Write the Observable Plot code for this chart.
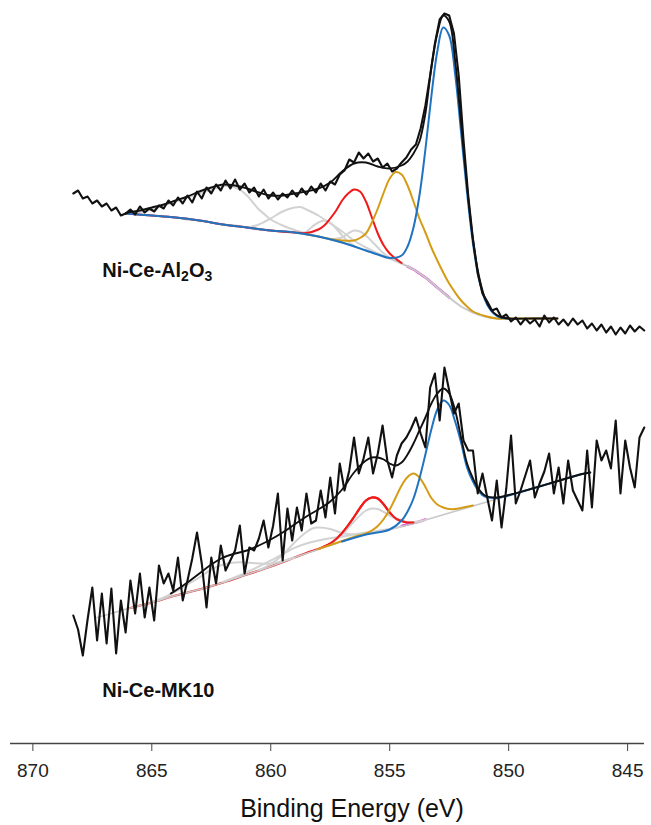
<!DOCTYPE html>
<html>
<head>
<meta charset="utf-8">
<script src="https://cdn.jsdelivr.net/npm/d3@7"></script>
<script src="https://cdn.jsdelivr.net/npm/@observablehq/plot@0.6"></script>
<style>
  body { margin: 0; background: #ffffff; }
  svg { display: block; }
</style>
</head>
<body>
<div id="chart"></div>
<script>
// ---------- axis / labels ----------
const xTicks = [870, 865, 860, 855, 850, 845];
const xDomain = [870.94, 844.29];
const yDomain = [0, 74.3];
const axisTitle = "Binding Energy (eV)";
const sampleNames = ["Ni-Ce-Al2O3", "Ni-Ce-MK10"];

// ---------- raw spectra (binding energy grid 868.3 -> 844.3 eV, step 0.2 eV) ----------
const rawStart = 868.3;
const rawStep = 0.2;
const rawTop = [
  55.0, 55.3,
  54.5, 54.7, 54.0, 54.3, 53.7,
  54.0, 53.3, 53.6, 52.8, 53.0,
  53.4, 52.9, 53.7, 53.1, 53.5,
  53.2, 53.8, 53.5, 54.3, 53.8,
  54.6, 54.0, 54.8, 54.1, 55.2,
  54.5, 55.6, 55.0, 55.9, 55.3,
  56.3, 55.5, 56.4, 55.4, 56.0,
  55.1, 55.6, 54.7, 55.4, 54.5,
  55.1, 54.4, 55.0, 54.6, 55.3,
  54.7, 55.5, 54.9, 55.7, 55.1,
  56.0, 55.3, 56.2, 55.9, 56.9,
  57.3, 58.4, 58.1, 59.1, 58.5,
  59.0, 58.2, 58.5, 57.6, 58.0,
  57.2, 57.5, 58.1, 58.6, 59.4,
  59.9, 61.5, 63.8, 66.8, 70.0,
  72.4, 73.0, 72.8, 71.0, 66.8,
  60.4, 54.8, 50.4, 47.0, 45.0,
  44.2, 43.3, 43.5, 42.6, 42.9,
  42.2, 42.6, 41.9, 42.5, 42.0,
  42.4, 41.7, 42.8, 42.1, 42.6,
  41.9, 42.4, 41.8, 42.5, 41.9,
  42.3, 41.5, 42.0, 41.3, 41.9,
  41.1, 41.7, 40.9, 41.6, 41.0,
  41.8, 41.2, 41.7, 41.3
];
const rawBottom = [
  12.8, 11.4,
  8.8, 12.4, 15.6, 10.3, 15.0,
  10.0, 15.5, 9.0, 14.3, 11.1,
  16.3, 13.0, 17.0, 12.6, 15.6,
  12.3, 17.8, 16.0, 17.0, 15.3,
  18.6, 14.3, 16.3, 18.5, 21.1,
  18.0, 13.6, 18.6, 16.0, 19.8,
  17.3, 18.3, 19.3, 21.8, 17.0,
  19.6, 19.3, 20.5, 22.3, 19.6,
  21.8, 25.0, 18.3, 23.5, 20.3,
  23.6, 21.3, 25.0, 22.0, 22.3,
  25.3, 22.6, 26.6, 23.0, 28.0,
  25.3, 27.3, 30.6, 27.0, 28.5,
  30.6, 27.0, 29.0, 31.8, 28.3,
  26.6, 28.8, 30.0, 30.6, 31.5,
  32.6, 31.0, 29.6, 35.6, 37.0,
  32.3, 37.6, 35.3, 33.0, 34.0,
  30.3, 29.3, 29.3, 25.0, 27.0,
  24.6, 22.3, 26.3, 21.6, 25.5,
  30.8, 24.0, 25.3, 26.8, 28.3,
  24.6, 26.0, 27.2, 29.0, 25.0,
  27.6, 24.0, 28.3, 25.3, 24.3,
  23.3, 29.3, 23.6, 30.3, 28.3,
  29.3, 27.5, 32.3, 25.0, 30.3,
  27.6, 25.6, 30.6, 31.6
];

// ---------- fitted curves, top spectrum (Ni-Ce-Al2O3): [eV, intensity] ----------
const topBackground = [[866.1,53.0],[865.5,52.9],[865,52.8],[864.5,52.7],[864,52.6],[863.5,52.4],[863,52.3],[862.5,52.1],[862,51.9],[861.5,51.8],[861,51.6],[860.5,51.4],[860,51.3],[859.5,51.2],[859,51.1],[858.5,50.9],[858,50.7],[857.5,50.4],[857,50.1],[856.5,49.7],[856,49.3],[855.5,48.9],[855,48.5],[854.5,48.0],[854,47.4],[853.5,46.6],[853,45.6],[852.5,44.6],[852,43.7],[851.5,43.1],[851,42.7],[850.5,42.5],[850,42.5],[849,42.5],[847.95,42.5]];
const topEnvelope = [[866.1,53.0],[866,53.1],[865.5,53.3],[865,53.6],[864.5,53.9],[864,54.3],[863.5,54.7],[863,55.2],[862.5,55.6],[862,55.9],[861.5,55.8],[861,55.5],[860.5,55.1],[860,54.8],[859.5,54.8],[859,55.0],[858.5,55.2],[858,55.5],[857.5,56.1],[857,57.2],[856.5,58.0],[856,58.1],[855.5,57.7],[855,57.5],[854.5,57.8],[854.25,58.2],[854,59.0],[853.75,60.2],[853.5,63.0],[853.25,67.6],[853,71.0],[852.75,72.8],[852.5,72.2],[852.25,68.3],[852,62.0],[851.75,55.7],[851.5,50.4],[851.25,46.75],[851,44.55],[850.75,43.4],[850.5,42.85],[850.25,42.6],[850,42.5],[849,42.5],[847.95,42.5]];
const topNi0 = [[866.1,53.0],[865,52.8],[864,52.6],[863,52.3],[862,51.9],[861,51.6],[860,51.3],[859,51.1],[858,50.7],[857,50.1],[856,49.3],[855.5,48.9],[855,48.55],[854.5,48.8],[854.25,49.7],[854,51.6],[853.75,54.8],[853.5,59.4],[853.25,64.7],[853,69.2],[852.75,71.6],[852.5,70.8],[852.25,66.95],[852,61.1],[851.75,55.1],[851.5,50.0],[851.25,46.5],[851,44.4],[850.75,43.3],[850.5,42.75],[850.25,42.55],[850,42.5]];
const topNi2 = [[858.5,50.9],[858,50.7],[857.5,50.45],[857,50.3],[856.5,50.3],[856.25,50.55],[856,51.0],[855.75,52.1],[855.5,53.5],[855.25,55.1],[855,56.5],[854.75,57.15],[854.5,56.9],[854.25,55.8],[854,54.2],[853.75,52.5],[853.5,51.1],[853.25,49.6],[853,48.3],[852.75,47.1],[852.5,46.0],[852.25,45.1],[852,44.3],[851.75,43.7],[851.5,43.2],[851,42.75],[850.5,42.5],[850,42.5],[849,42.5],[847.95,42.5]];
const topNi3 = [[866.1,53.0],[865,52.8],[864,52.6],[863,52.3],[862,51.9],[861,51.6],[860,51.3],[859,51.1],[858.5,51.05],[858,51.4],[857.75,51.8],[857.5,52.5],[857.25,53.3],[857,54.3],[856.75,55.0],[856.5,55.4],[856.25,55.2],[856,54.2],[855.75,52.6],[855.5,51.0],[855.25,49.8],[855,49.0],[854.5,48.05]];
const topMinor = [[854.25,47.7],[854,47.4],[853.75,47.0],[853.5,46.6],[853.25,46.1],[853,45.6],[852.75,45.1],[852.5,44.6]];
const topSatA = [[866.1,53.0],[865.5,53.15],[865,53.4],[864.5,53.8],[864,54.2],[863.5,54.6],[863,55.0],[862.5,55.4],[862,55.7],[861.75,55.8],[861.5,55.6],[861.25,55.3],[861,54.8],[860.75,54.1],[860.5,53.4],[860.25,52.9],[860,52.4],[859.5,51.8],[859,51.35],[858.5,51.0],[858,50.7]];
const topSatB = [[861,51.6],[860.5,51.9],[860,52.5],[859.5,53.2],[859,53.6],[858.75,53.65],[858.5,53.4],[858,52.8],[857.5,52.0],[857,51.2],[856.5,50.3],[856,49.6],[855.5,49.0],[855,48.5]];
const topSatC = [[858.75,51.0],[858.5,51.2],[858.25,51.7],[858,52.1],[857.75,52.3],[857.5,52.1],[857.25,51.5],[857,50.8],[856.75,50.2],[856.5,49.8]];
const topSatD = [[857.5,50.4],[857,50.6],[856.75,51.0],[856.5,51.3],[856.25,51.2],[856,50.8],[855.75,50.2],[855.5,49.6],[855.25,49.0],[855,48.6]];

// ---------- fitted curves, bottom spectrum (Ni-Ce-MK10): [eV, intensity] ----------
const botBackground = [[867.3,12.6],[867,12.8],[866.5,13.15],[866,13.5],[865.5,13.8],[865,14.1],[864.5,14.45],[864,14.8],[863.5,15.1],[863,15.4],[862.5,15.75],[862,16.1],[861.5,16.5],[861,16.9],[860.5,17.3],[860,17.7],[859.5,18.15],[859,18.6],[858.5,19.0],[858,19.4],[857.5,19.8],[857,20.2],[856.5,20.6],[856,20.9],[855.5,21.15],[855,21.4],[854.5,21.7],[854,22.0],[853.5,22.35],[853,22.7],[852.5,23.05],[852,23.4],[851.5,23.75],[851,24.1],[850.5,24.45],[850,24.8],[849,25.5],[848,26.2],[847,26.9],[846.57,27.1]];
const botEnvelope = [[864.2,15.0],[864,15.3],[863.5,16.1],[863,17.0],[862.5,17.9],[862,18.6],[861.5,19.0],[861,19.3],[860.5,19.8],[860,20.4],[859.5,21.1],[859,21.9],[858.5,22.7],[858,23.4],[857.5,24.2],[857,25.4],[856.5,27.1],[856,28.3],[855.75,28.6],[855.5,28.6],[855.25,28.4],[855,28.0],[854.75,27.8],[854.5,28.1],[854.25,28.9],[854,30.0],[853.75,31.3],[853.5,32.6],[853.25,34.0],[853,35.0],[852.75,35.5],[852.5,35.0],[852.25,33.3],[852,30.6],[851.75,28.0],[851.5,26.5],[851.25,25.4],[851,24.8],[850.5,24.6],[850,24.85],[849,25.5],[848,26.2],[847,26.9],[846.57,27.1]];
const botNi0 = [[857,20.2],[856,20.9],[855,21.4],[854.5,22.3],[854.25,23.2],[854,24.5],[853.75,26.5],[853.5,28.9],[853.25,31.4],[853,33.4],[852.75,34.3],[852.5,33.85],[852.25,32.2],[852,30.1],[851.75,27.6],[851.5,26.2],[851.25,25.2],[851,24.7],[850.5,24.55],[850,24.8],[849,25.5],[848,26.2],[847,26.9],[846.57,27.1]];
const botNi2 = [[858,19.45],[857.5,19.85],[857,20.25],[856.5,20.65],[856,21.0],[855.75,21.3],[855.5,21.75],[855.25,22.45],[855,23.4],[854.75,24.6],[854.5,25.8],[854.25,26.65],[854,27.0],[853.75,26.6],[853.5,25.65],[853.25,24.55],[853,23.9],[852.75,23.6],[852.5,23.45],[852.25,23.45],[852,23.55],[851.5,23.8]];
const botNi3 = [[866,13.5],[865,14.1],[864,14.8],[863,15.4],[862,16.1],[861,16.9],[860,17.7],[859,18.6],[858.5,19.05],[858,19.45],[857.75,19.7],[857.5,20.0],[857.25,20.45],[857,21.05],[856.75,21.8],[856.5,22.65],[856.25,23.55],[856,24.3],[855.75,24.6],[855.5,24.5],[855.25,23.9],[855,23.1],[854.75,22.5],[854.5,22.25],[854.25,22.1],[854,22.1]];
const botMinor = [[854.5,21.75],[854.25,21.9],[854,22.05],[853.75,22.2],[853.5,22.4]];
const botSatA = [[865,14.15],[864.5,14.6],[864,15.2],[863.5,15.9],[863,16.6],[862.5,17.4],[862,17.9],[861.5,18.1],[861,18.1],[860.5,18.0],[860,18.0],[859.5,18.25],[859,18.6]];
const botSatB = [[860.5,17.35],[860,17.95],[859.5,18.85],[859,20.1],[858.5,21.15],[858.25,21.5],[858,21.6],[857.5,21.45],[857,21.05],[856.5,20.9],[856,21.0],[855.5,21.15]];
const botSatC = [[857.5,19.99],[857,20.9],[856.5,22.2],[856,23.3],[855.75,23.5],[855.5,23.45],[855,22.8],[854.5,22.25],[854,22.15],[853.5,22.35]];
const botSatD = [[862,16.15],[861,17.13],[860,18.3],[859,19.56],[858.5,20.0],[858,20.3],[857,20.7],[856,21.1],[855,21.44],[854.5,21.7]];

// ---------- styling ----------
const C = {
  blue: "#1f73c1", gold: "#d49c16", red: "#f01a1a", grey: "#d2d2d2",
  bg: "#c8c8c8", minor: "#e048d2", black: "#111111", axis: "#444444"
};

const pts = arr => arr.map(([e, v]) => ({e, v}));
const raw = arr => arr.map((v, i) => ({e: rawStart - rawStep * i, v}));
const smooth = (arr, stroke, w = 2, extra = {}) =>
  Plot.line(pts(arr), {x: "e", y: "v", stroke, strokeWidth: w, curve: "catmull-rom",
    strokeLinejoin: "round", strokeLinecap: "round", ...extra});
const noisy = arr =>
  Plot.line(raw(arr), {x: "e", y: "v", stroke: C.black, strokeWidth: 2.1, strokeLinejoin: "round"});

const chart = Plot.plot({
  width: 651,
  height: 825,
  marginTop: 0,
  marginRight: 7,
  marginBottom: 82,
  marginLeft: 10,
  style: {fontFamily: "'Liberation Sans', Arial, Helvetica, sans-serif", background: "#ffffff", color: "#222222"},
  x: {domain: xDomain},
  y: {domain: yDomain, axis: null},
  marks: [
    // ----- top spectrum -----
    smooth(topMinor, C.minor, 2.6),
    smooth(topBackground, C.bg, 2),
    smooth(topSatA, C.grey, 2),
    smooth(topSatB, C.grey, 2),
    smooth(topSatC, C.grey, 2),
    smooth(topSatD, C.grey, 2),
    smooth(topNi3, C.red, 2),
    smooth(topNi2, C.gold, 2),
    smooth(topNi0, C.blue, 2),
    smooth(topEnvelope, C.black, 1.9),
    noisy(rawTop),
    // ----- bottom spectrum -----
    smooth(botNi3, C.red, 2.2),
    smooth(botMinor, C.minor, 2.6),
    smooth(botBackground, C.bg, 1.6),
    smooth(botSatA, C.grey, 2),
    smooth(botSatD, C.grey, 2),
    smooth(botSatB, C.grey, 2),
    smooth(botSatC, C.grey, 2),
    smooth(botNi3, C.red, 2, {filter: d => d.e <= 857.8}),
    smooth(botNi2, C.gold, 2),
    smooth(botNi0, C.blue, 2),
    smooth(botEnvelope, C.black, 1.9),
    noisy(rawBottom),
    // ----- axis -----
    Plot.ruleY([yDomain[0]], {stroke: C.axis, strokeWidth: 1.3}),
    Plot.axisX(xTicks, {tickSize: 8, tickPadding: 12, fontSize: 19, label: null, stroke: C.axis}),
    Plot.text([axisTitle], {text: d => d, frameAnchor: "bottom", textAnchor: "middle", lineAnchor: "bottom",
      dx: 24.5, dy: 73.5, fontSize: 25, fill: "#111111"}),
    // ----- sample labels -----
    Plot.text([sampleNames[0]], {text: d => d, frameAnchor: "top-left", textAnchor: "start", lineAnchor: "bottom",
      dx: 91.7, dy: 276.7, fontSize: 20, fontWeight: "bold", fill: "#111111"}),
    Plot.text([sampleNames[1]], {text: d => d, frameAnchor: "top-left", textAnchor: "start", lineAnchor: "bottom",
      dx: 91.7, dy: 696.7, fontSize: 20, fontWeight: "bold", fill: "#111111"})
  ]
});

// chemical-formula subscripts for the Al2O3 label
chart.querySelectorAll("text").forEach(t => {
  if (t.textContent !== sampleNames[0]) return;
  const parts = sampleNames[0].match(/\d+|[^\d]+/g);
  t.textContent = "";
  let sub = false;
  parts.forEach(p => {
    const isDigit = /^\d+$/.test(p);
    const ts = document.createElementNS("http://www.w3.org/2000/svg", "tspan");
    ts.textContent = p;
    if (isDigit && !sub) { ts.setAttribute("dy", "4"); ts.setAttribute("font-size", "14"); sub = true; }
    else if (!isDigit && sub) { ts.setAttribute("dy", "-4"); ts.setAttribute("font-size", "20"); sub = false; }
    else if (isDigit) { ts.setAttribute("font-size", "14"); }
    t.appendChild(ts);
  });
});

document.getElementById("chart").appendChild(chart);
</script>
</body>
</html>
